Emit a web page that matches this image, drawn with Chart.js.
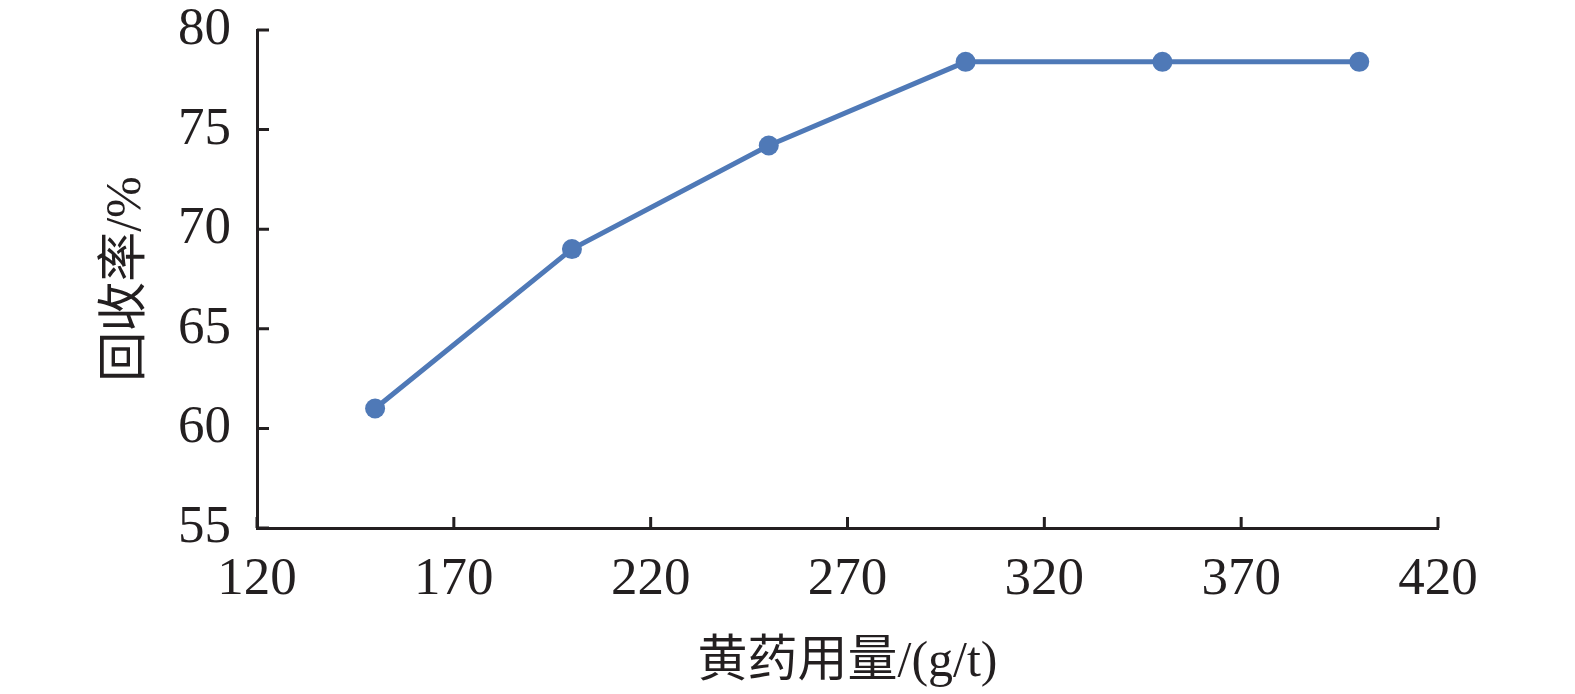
<!DOCTYPE html>
<html>
<head>
<meta charset="utf-8">
<script src="https://cdn.jsdelivr.net/npm/chart.js@4/dist/chart.umd.min.js"></script>
<style>
  html, body { margin: 0; padding: 0; background: #fff; }
  #wrap { width: 1575px; height: 694px; }
</style>
</head>
<body>
<div id="wrap"><canvas id="recoveryChart" width="1575" height="694"></canvas></div>
<script>
// 黄药用量 (g/t) 与 回收率 (%)
const dosage = [150, 200, 250, 300, 350, 400];
const recovery = [61.0, 69.0, 74.2, 78.4, 78.4, 78.4];
const xTicks = [120, 170, 220, 270, 320, 370, 420];
const yTicks = [55, 60, 65, 70, 75, 80];

const axisColor = '#231f20';
const lineColor = '#4f79b7';
const fontFamily = '"Liberation Serif", "Times New Roman", "Noto Sans CJK SC", serif';

// 刻度线画在坐标轴内侧
const innerTicks = {
    id: 'innerTicks',
    afterDatasetsDraw(chart) {
        const { ctx, chartArea, scales } = chart;
        ctx.save();
        ctx.strokeStyle = axisColor;
        ctx.lineWidth = 3;
        ctx.beginPath();
        xTicks.forEach(v => {
            const px = scales.x.getPixelForValue(v);
            ctx.moveTo(px, chartArea.bottom);
            ctx.lineTo(px, chartArea.bottom - 11);
        });
        yTicks.forEach(v => {
            const py = scales.y.getPixelForValue(v);
            ctx.moveTo(chartArea.left, py);
            ctx.lineTo(chartArea.left + 12, py);
        });
        ctx.stroke();
        ctx.restore();
    }
};

new Chart(document.getElementById('recoveryChart').getContext('2d'), {
    type: 'scatter',
    data: {
        datasets: [{
            data: dosage.map((x, i) => ({ x: x, y: recovery[i] })),
            borderColor: lineColor,
            backgroundColor: lineColor,
            borderWidth: 5,
            pointRadius: 10,
            pointBorderWidth: 0,
            showLine: true,
            fill: false,
            tension: 0
        }]
    },
    options: {
        responsive: false,
        animation: false,
        devicePixelRatio: 1,
        layout: { padding: { top: 30, right: 137, left: 0, bottom: 0 } },
        plugins: {
            legend: { display: false },
            tooltip: { enabled: false }
        },
        scales: {
            x: {
                type: 'linear',
                min: 120,
                max: 420,
                afterBuildTicks: scale => { scale.ticks = xTicks.map(v => ({ value: v })); },
                afterFit: scale => {
                    scale.height = 166;
                    scale.paddingLeft = 0;
                    scale.paddingRight = 0;
                },
                grid: { display: false, drawTicks: false },
                border: { display: true, color: axisColor, width: 3 },
                ticks: {
                    color: '#231f20',
                    padding: 20,
                    maxRotation: 0,
                    font: { family: fontFamily, size: 53 }
                },
                title: {
                    display: true,
                    text: '黄药用量/(g/t)',
                    color: '#231f20',
                    padding: { top: 0, bottom: 1 },
                    font: { family: fontFamily, size: 50 }
                }
            },
            y: {
                type: 'linear',
                min: 55,
                max: 80,
                afterBuildTicks: scale => { scale.ticks = yTicks.map(v => ({ value: v })); },
                afterFit: scale => {
                    scale.width = 257;
                    scale.paddingTop = 0;
                    scale.paddingBottom = 0;
                },
                grid: { display: false, drawTicks: false },
                border: { display: true, color: axisColor, width: 3 },
                ticks: {
                    color: '#231f20',
                    padding: 26,
                    font: { family: fontFamily, size: 53 }
                },
                title: {
                    display: true,
                    text: '回收率/%',
                    color: '#231f20',
                    padding: { top: 97, bottom: 0 },
                    font: { family: fontFamily, size: 50 }
                }
            }
        }
    },
    plugins: [innerTicks]
});
</script>
</body>
</html>
